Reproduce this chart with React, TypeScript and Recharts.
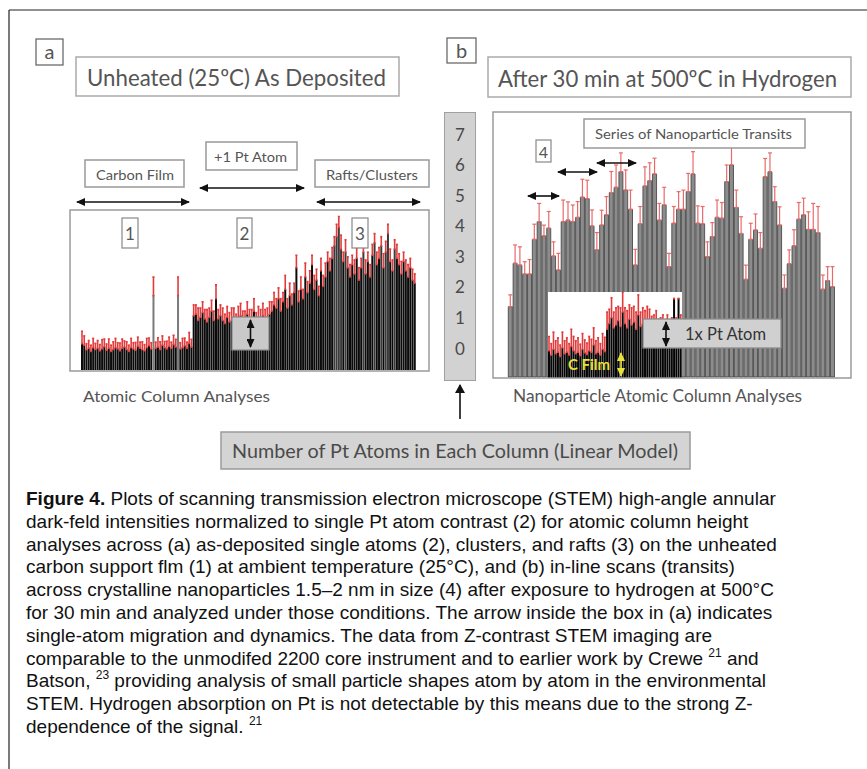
import React from 'react';
import { BarChart, Bar, XAxis, YAxis, ErrorBar, Cell } from 'recharts';

// panel a: atomic column heights (Pt atom units above the carbon floor)
const carbonFilm = [
	0.85, 0.8, 0.65, 0.7, 0.6, 0.72, 0.66, 0.7, 0.62, 0.68,
	0.75, 0.64, 0.7, 0.6, 0.66, 0.72, 0.68, 0.62, 0.7, 0.74,
	0.66, 0.6, 0.72, 0.68, 0.64, 0.76, 0.7, 0.66, 0.62, 0.72,
	0.78, 0.68, 2.4, 0.7, 0.74, 0.66, 0.8, 0.72, 0.68, 0.76,
	0.7, 0.82, 0.74, 2.4, 0.68, 0.72, 0.78, 0.7, 0.86, 0.74,
];
const carbonFilmErr = [
	0.4, 0.3, 0.2, 0.25, 0.2, 0.3, 0.2, 0.25, 0.2, 0.3,
	0.25, 0.2, 0.3, 0.2, 0.25, 0.3, 0.2, 0.25, 0.3, 0.2,
	0.25, 0.2, 0.3, 0.2, 0.25, 0.3, 0.2, 0.25, 0.2, 0.3,
	0.25, 0.2, 0.6, 0.2, 0.3, 0.25, 0.3, 0.2, 0.25, 0.3,
	0.2, 0.3, 0.25, 0.6, 0.2, 0.3, 0.25, 0.2, 0.35, 0.25,
];
const plusOneAtom = [
	1.75, 1.8, 1.6, 1.7, 1.85, 1.65, 1.55, 1.7, 1.9, 1.6,
	2.3, 1.65, 1.75, 1.6, 1.5, 1.7, 1.55, 1.6, 1.65, 1.5,
	1.7, 1.75, 1.6, 1.55, 1.8, 1.65, 1.6, 1.9, 1.55, 1.7,
	1.65, 1.75, 1.6, 1.7, 1.8,
];
const plusOneAtomErr = [
	0.35, 0.3, 0.4, 0.3, 0.35, 0.3, 0.4, 0.3, 0.35, 0.3,
	0.45, 0.3, 0.35, 0.4, 0.3, 0.35, 0.3, 0.4, 0.35, 0.3,
	0.35, 0.4, 0.3, 0.35, 0.4, 0.3, 0.35, 0.4, 0.3, 0.35,
	0.3, 0.4, 0.35, 0.3, 0.4,
];
const raftsClusters = [
	1.9, 2.1, 2.0, 2.3, 1.9, 2.2, 2.6, 2.0, 2.4, 2.1, 2.5, 3.3, 2.2,
	2.6, 2.3, 3.0, 2.5, 2.8, 3.4, 2.6, 2.9, 2.4, 3.2, 2.7, 3.0, 3.5,
	3.2, 3.6, 4.0, 4.3, 4.6, 3.9, 3.5, 3.8, 3.3,
	3.0, 3.4, 3.1, 3.6, 2.9, 3.3, 3.8, 3.1, 3.5, 3.0, 3.7, 4.1, 3.4,
	3.6, 4.0, 3.3, 3.8, 4.4, 3.5, 3.2, 3.9, 3.6, 3.4, 3.1, 3.5, 3.2, 3.0, 3.3, 2.9, 2.8,
];
const raftsClustersErr = [
	0.3, 0.4, 0.3, 0.35, 0.4, 0.3, 0.45, 0.3, 0.4, 0.35, 0.3, 0.4, 0.35,
	0.4, 0.3, 0.45, 0.35, 0.4, 0.3, 0.45, 0.35, 0.3, 0.4, 0.35, 0.45, 0.3,
	0.4, 0.35, 0.3, 0.4, 0.35, 0.45, 0.3, 0.4, 0.35,
	0.4, 0.3, 0.45, 0.35, 0.4, 0.3, 0.35, 0.45, 0.3, 0.4, 0.35, 0.3, 0.4,
	0.35, 0.3, 0.45, 0.35, 0.3, 0.4, 0.35, 0.3, 0.45, 0.35, 0.4, 0.3, 0.35, 0.4, 0.3, 0.35, 0.3,
];

// panel b: nanoparticle transits
const transits = [
	2.27, 3.67, 3.61, 3.32, 3.32, 4.44, 5.01, 4.55, 4.8, 3.9,
	3.45, 5.01, 5.06, 5.01, 5.15, 5.8, 5.75, 4.87, 4.1, 4.9,
	5.23, 5.95, 6.12, 6.62, 6.03, 5.41, 3.61, 4.94, 6.16, 6.33,
	6.55, 5.06, 5.55, 3.56, 4.96, 5.41, 5.41, 5.98, 6.55, 4.96,
	4.94, 3.88, 4.53, 5.15, 5.12, 6.3, 6.84, 5.47, 4.63, 3.15,
	4.44, 4.74, 4.15, 6.46, 6.62, 5.66, 4.9, 2.86, 3.65, 4.23,
	5.09, 5.23, 4.76, 4.76, 4.66, 2.83, 3.11, 2.91,
];
const transitsErr = [
	0.38, 0.59, 0.59, 0.4, 0.47, 0.49, 0.59, 0.35, 0.54, 0.46,
	0.54, 0.7, 0.59, 0.54, 0.51, 0.58, 0.6, 0.52, 0.56, 0.48,
	0.59, 0.68, 0.72, 0.61, 0.65, 0.62, 0.51, 0.56, 0.62, 0.58,
	0.51, 0.54, 0.57, 0.43, 0.54, 0.57, 0.62, 0.59, 0.72, 0.56,
	0.56, 0.48, 0.45, 0.56, 0.51, 0.54, 0.65, 0.56, 0.54, 0.46,
	0.52, 0.52, 0.51, 0.59, 0.61, 0.48, 0.59, 0.43, 0.45, 0.52,
	0.54, 0.54, 0.57, 0.84, 0.84, 0.46, 0.45, 0.65,
];

// inset of panel b: carbon film vs +1 Pt atom
const insetFilm = [
	0.95, 0.8, 1.0, 0.85, 0.9, 0.75, 1.05, 0.85, 0.9, 0.8, 1.1, 0.95, 0.85,
	0.9, 0.78, 1.0, 0.88, 0.82, 0.95, 0.9, 1.15, 0.85, 0.9, 0.8, 1.0, 0.92,
];
const insetAtom = [
	1.7, 1.9, 2.1, 1.75, 1.85, 2.0, 1.8, 2.3, 1.9, 1.75, 2.05, 1.85,
	1.95, 1.7, 2.2, 1.8, 1.9, 1.75, 2.0, 1.85, 1.7, 1.8, 1.9, 1.65,
	1.75, 1.8, 1.7, 1.85, 1.6, 1.75, 2.77, 1.8, 2.77, 1.9,
];
const insetErr = [
	0.5, 0.4, 0.6, 0.45, 0.5, 0.4, 0.55, 0.45, 0.5, 0.4, 0.6, 0.5, 0.45,
	0.5, 0.4, 0.55, 0.45, 0.4, 0.5, 0.45, 0.6, 0.45, 0.5, 0.4, 0.55, 0.5,
	0.6, 0.5, 0.7, 0.55, 0.6, 0.5, 0.65, 0.7, 0.55, 0.6, 0.5, 0.6,
	0.55, 0.6, 0.7, 0.5, 0.55, 0.6, 0.5, 0.55, 0.45, 0.4, 0.45, 0.4,
	0.35, 0.4, 0.3, 0.35, 0.3, 0.35, 0.0, 0.3, 0.0, 0.3,
];

const scaleTicks = [0, 1, 2, 3, 4, 5, 6, 7];

const captionLines = [
	['Plots of scanning transmission electron microscope (STEM) high-angle annular'],
	['dark-feld intensities normalized to single Pt atom contrast (2) for atomic column height'],
	['analyses across (a) as-deposited single atoms (2), clusters, and rafts (3) on the unheated'],
	['carbon support flm (1) at ambient temperature (25°C), and (b) in-line scans (transits)'],
	['across crystalline nanoparticles 1.5–2 nm in size (4) after exposure to hydrogen at 500°C'],
	['for 30 min and analyzed under those conditions. The arrow inside the box in (a) indicates'],
	['single-atom migration and dynamics. The data from Z-contrast STEM imaging are'],
	['comparable to the unmodifed 2200 core instrument and to earlier work by Crewe ', '21', ' and'],
	['Batson, ', '23', ' providing analysis of small particle shapes atom by atom in the environmental'],
	['STEM. Hydrogen absorption on Pt is not detectable by this means due to the strong Z-'],
	['dependence of the signal. ', '21'],
];

const rowsA = [...carbonFilm, ...plusOneAtom, ...raftsClusters].map((v, i) => ({
	i,
	v,
	err: [0, [...carbonFilmErr, ...plusOneAtomErr, ...raftsClustersErr][i]],
}));
const rowsB = transits.map((v, i) => ({ i, v, err: [0, transitsErr[i]] }));
const rowsInset = [...insetFilm, ...insetAtom].map((v, i) => ({ i, v, err: [0, insetErr[i]] }));
const scaleRows = scaleTicks.map((t) => ({ t }));

const FIG_FONT = 'Lato, "Open Sans", sans-serif';
const GREY_TXT = '#555';

function Txt({ x, y, w, size, fill = GREY_TXT, anchor = 'start', weight = 'normal', children }: any) {
	return (
		<text
			x={x}
			y={y}
			fontSize={size}
			fill={fill}
			fontFamily={FIG_FONT}
			fontWeight={weight}
			textAnchor={anchor}
			dominantBaseline='central'
			textLength={w}
			lengthAdjust={w ? 'spacingAndGlyphs' : undefined}
		>
			{children}
		</text>
	);
}

function Box({ x, y, w, h, fill = '#fff', stroke = '#9a9a9a', sw = 1.5 }: any) {
	return <rect x={x} y={y} width={w} height={h} fill={fill} stroke={stroke} strokeWidth={sw} />;
}

function DArrow({ x1, y1, x2, y2, color = '#111', id = 'ah' }: any) {
	return <line x1={x1} y1={y1} x2={x2} y2={y2} stroke={color} strokeWidth={1.6} markerStart={`url(#${id})`} markerEnd={`url(#${id})`} />;
}

const abs = (left: number, top: number, extra: any = {}) => ({ position: 'absolute' as const, left, top, ...extra });

export default function App() {
	return (
		<div style={{ position: 'absolute', left: 0, top: 0, width: 867, height: 769, background: '#fff', overflow: 'hidden' }}>
			{/* panel a */}
			<div style={abs(70, 210)}>
				<BarChart width={359} height={161} data={rowsA} margin={{ top: 0, right: 13, bottom: 1, left: 11 }} barCategoryGap={0} barGap={0}>
					<XAxis dataKey='i' hide />
					<YAxis hide domain={[0, 5.16]} />
					<Bar dataKey='v' fill='#0b0b0b' isAnimationActive={false}>
						{rowsA.map((r) => (
							<Cell key={r.i} fill={r.v > 2.35 && r.i < 50 ? '#7a7a7a' : r.v >= 3.8 ? '#3a3a3a' : '#0b0b0b'} />
						))}
						<ErrorBar dataKey='err' width={1} strokeWidth={1.6} stroke='#e23b3b' direction='y' isAnimationActive={false} />
					</Bar>
				</BarChart>
			</div>

			{/* central scale */}
			<div style={abs(444, 112, { width: 32, height: 269, background: '#d2d2d2', boxSizing: 'border-box', border: '1.5px solid #a0a0a0' })} />
			<div style={abs(444, 112)}>
				<BarChart width={40} height={269} data={scaleRows} margin={{ top: 22, right: 0, bottom: 33, left: 0 }}>
					<XAxis dataKey='t' hide />
					<YAxis
						type='number'
						domain={[0, 7]}
						ticks={scaleTicks}
						interval={0}
						width={32}
						axisLine={false}
						tickLine={false}
						tick={(p: any) => (
							<text x={16} y={p.y} textAnchor='middle' dominantBaseline='central' fontSize={17} fill='#4a4a4a' fontFamily={FIG_FONT}>
								{p.payload.value}
							</text>
						)}
					/>
					<Bar dataKey='t' fill='none' isAnimationActive={false} />
				</BarChart>
			</div>

			{/* panel b */}
			<div style={abs(493, 112)}>
				<BarChart width={358} height={266} data={rowsB} margin={{ top: 0, right: 16, bottom: 1, left: 15 }} barCategoryGap='6%'>
					<XAxis dataKey='i' hide />
					<YAxis hide domain={[0, 8.55]} />
					<Bar dataKey='v' fill='#8c8c8c' stroke='#3c3c3c' strokeWidth={0.8} isAnimationActive={false}>
						<ErrorBar dataKey='err' width={2} strokeWidth={1.2} stroke='#e86a6a' direction='y' isAnimationActive={false} />
					</Bar>
				</BarChart>
			</div>

			{/* inset in panel b */}
			<div style={abs(548, 292, { width: 134, height: 86, background: '#fff' })}>
				<BarChart width={134} height={86} data={rowsInset} margin={{ top: 0, right: 0, bottom: 0, left: 0 }} barCategoryGap={0} barGap={0}>
					<XAxis dataKey='i' hide />
					<YAxis hide domain={[0, 2.77]} />
					<Bar dataKey='v' fill='#050505' isAnimationActive={false}>
						<ErrorBar dataKey='err' width={1} strokeWidth={1.6} stroke='#e23b3b' direction='y' isAnimationActive={false} />
					</Bar>
				</BarChart>
			</div>

			{/* annotations */}
			<svg width={867} height={769} style={abs(0, 0, { pointerEvents: 'none' })}>
				<defs>
					<marker id='ah' markerWidth='9' markerHeight='8' refX='8' refY='4' orient='auto-start-reverse' markerUnits='userSpaceOnUse'>
						<path d='M0,0 L9,4 L0,8 z' fill='#111' />
					</marker>
					<marker id='ahy' markerWidth='9' markerHeight='8' refX='8' refY='4' orient='auto-start-reverse' markerUnits='userSpaceOnUse'>
						<path d='M0,0 L9,4 L0,8 z' fill='#e8e23c' />
					</marker>
					<marker id='ahu' markerWidth='9' markerHeight='10' refX='8' refY='5' orient='auto' markerUnits='userSpaceOnUse'>
						<path d='M0,0 L9,5 L0,10 z' fill='#111' />
					</marker>
				</defs>

				{/* outer frame */}
				<line x1={9} y1={10} x2={867} y2={10} stroke='#222' strokeWidth={1.2} />
				<line x1={9} y1={10} x2={9} y2={769} stroke='#222' strokeWidth={1.2} />

				{/* panel a labels */}
				<Box x={36} y={39} w={27} h={26} stroke='#6a6a6a' sw={1.3} />
				<Txt x={49.5} y={51} size={20} anchor='middle'>a</Txt>
				<Box x={76} y={57} w={323} h={39} stroke='#aaa' />
				<Txt x={87} y={77} w={299} size={23}>Unheated (25ºC) As Deposited</Txt>

				<Box x={85} y={160} w={99} h={27} stroke='#999' />
				<Txt x={96} y={174} w={78} size={14}>Carbon Film</Txt>
				<Box x={206} y={142} w={91} h={28} stroke='#999' />
				<Txt x={214} y={156} w={73} size={14}>+1 Pt Atom</Txt>
				<Box x={315} y={160} w={114} h={27} stroke='#999' />
				<Txt x={326} y={174} w={92} size={14}>Rafts/Clusters</Txt>
				<DArrow x1={77} y1={202} x2={189} y2={202} />
				<DArrow x1={200} y1={188} x2={304} y2={188} />
				<DArrow x1={317} y1={202} x2={420} y2={202} />

				<rect x={70} y={210} width={359} height={161} fill='none' stroke='#9a9a9a' strokeWidth={1.5} />
				<Box x={122} y={218} w={16} h={30} stroke='#888' sw={1.2} />
				<Txt x={130} y={233} size={17} anchor='middle'>1</Txt>
				<Box x={237} y={218} w={15} h={30} stroke='#888' sw={1.2} />
				<Txt x={244.5} y={233} size={17} anchor='middle'>2</Txt>
				<Box x={352} y={218} w={16} h={30} stroke='#888' sw={1.2} />
				<Txt x={360} y={233} size={17} anchor='middle'>3</Txt>
				<Box x={232} y={317} w={37} h={33} fill='#c9c9c9' stroke='#8a8a8a' sw={1.2} />
				<DArrow x1={250.5} y1={320} x2={250.5} y2={347} />
				<Txt x={83} y={395} w={187} size={16}>Atomic Column Analyses</Txt>

				{/* panel b labels */}
				<Box x={447} y={38} w={29} h={25} stroke='#6a6a6a' sw={1.3} />
				<Txt x={461.5} y={50} size={20} anchor='middle'>b</Txt>
				<Box x={488} y={57} w={363} h={40} stroke='#aaa' />
				<Txt x={498} y={78} w={339} size={23}>After 30 min at 500ºC in Hydrogen</Txt>

				<rect x={493} y={112} width={358} height={266} fill='none' stroke='#9a9a9a' strokeWidth={1.5} />
				<Box x={584} y={119} w={221} h={29} stroke='#999' />
				<Txt x={595} y={133.5} w={197} size={14}>Series of Nanoparticle Transits</Txt>
				<Box x={536} y={140} w={15} h={22} stroke='#888' sw={1.2} />
				<Txt x={543.5} y={151} size={16} anchor='middle'>4</Txt>
				<DArrow x1={528} y1={196} x2={559} y2={196} />
				<DArrow x1={558} y1={172} x2={597} y2={172} />
				<DArrow x1={597} y1={163} x2={636} y2={163} />

				<Box x={643} y={319} w={138} h={29} fill='#d0d0d0' stroke='#8a8a8a' sw={1.3} />
				<DArrow x1={666} y1={322} x2={666} y2={346} />
				<Txt x={685} y={333.5} w={81} size={17} fill='#333'>1x Pt Atom</Txt>
				<Txt x={568} y={363} w={42} size={16} fill='#e8e23c' weight='bold'>C Film</Txt>
				<DArrow x1={621} y1={353} x2={621} y2={376} color='#e8e23c' id='ahy' />
				<Txt x={513} y={395} w={289} size={17}>Nanoparticle Atomic Column Analyses</Txt>

				{/* scale label */}
				<line x1={460} y1={419} x2={460} y2={385} stroke='#111' strokeWidth={1.6} markerEnd='url(#ahu)' />
				<Box x={221} y={432} w={469} h={37} fill='#d4d4d4' stroke='#9a9a9a' />
				<Txt x={232} y={450.5} w={446} size={19} fill='#4a4a4a'>Number of Pt Atoms in Each Column (Linear Model)</Txt>

				{/* caption */}
				{captionLines.map((parts, li) => (
					<text key={li} x={26} y={505 + li * 22.8} fontSize={19} fill='#111' fontFamily='"Liberation Sans", Arial, sans-serif'>
						{li === 0 && <tspan fontWeight='bold'>Figure 4. </tspan>}
						{parts.map((p, pi) =>
							pi % 2 === 1 ? (
								<tspan key={pi} fontSize={12} dy={-8}>
									{p}
								</tspan>
							) : (
								<tspan key={pi} dy={pi > 0 ? 8 : 0}>
									{p}
								</tspan>
							),
						)}
					</text>
				))}
			</svg>
		</div>
	);
}
